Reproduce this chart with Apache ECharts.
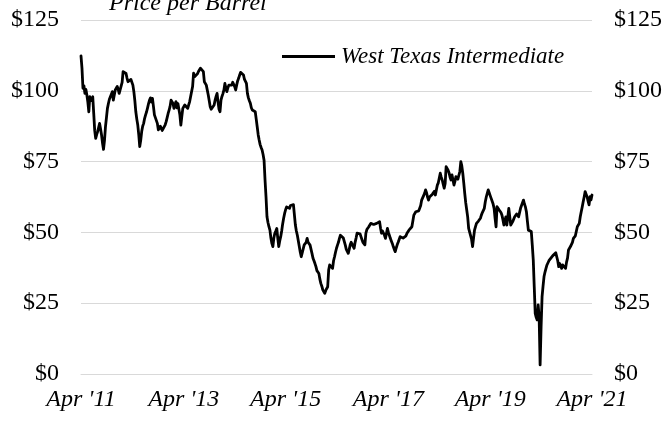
<!DOCTYPE html>
<html>
<head>
<meta charset="utf-8">
<script src="https://cdn.jsdelivr.net/npm/echarts@6/dist/echarts.min.js"></script>
<style>
  html, body { margin: 0; padding: 0; background: #fff; }
  #chart { width: 665px; height: 422px; }
</style>
</head>
<body>
<div id="chart"></div>
<script>
// Weekly WTI spot price (USD per barrel), Friday observations from 1 Apr 2011.
const startDate = '2011-04-01';
const wtiPrice = [
  112.3, 108.0, 100.9, 101.8, 99.1, 100.5, 98.5, 96.0, 92.6, 97.9,
  96.5, 95.8, 97.9, 92.0, 86.0, 83.2, 84.5, 85.6, 87.0, 88.5,
  86.5, 84.4, 81.5, 79.3, 82.5, 87.3, 90.5, 93.8, 95.5, 97.0,
  97.9, 98.8, 99.7, 96.7, 98.5, 100.3, 101.0, 101.5, 100.5, 99.1,
  98.5, 99.1, 103.0, 106.8, 107.5, 106.5, 106.1, 104.5, 103.2, 102.5,
  102.6, 104.0, 103.6, 102.0, 99.7, 96.5, 92.6, 90.0, 87.9, 84.5,
  80.3, 82.5, 85.6, 87.5, 88.5, 90.3, 91.5, 92.6, 94.0, 95.5,
  96.7, 97.5, 96.0, 97.3, 94.5, 91.5, 92.0, 90.9, 88.5, 86.2,
  86.0, 87.5, 86.8, 86.0, 85.6, 86.5, 88.0, 89.1, 90.5, 92.0,
  93.2, 94.5, 96.7, 97.3, 95.5, 93.8, 95.0, 96.2, 94.0, 95.5,
  95.0, 91.5, 87.9, 91.0, 93.8, 94.5, 95.0, 95.6, 94.5, 93.8,
  95.0, 96.2, 95.5, 96.7, 101.5, 106.2, 105.0, 104.5, 105.6, 106.0,
  106.8, 107.5, 108.0, 108.5, 107.5, 106.8, 103.2, 102.5, 102.0, 102.0,
  98.5, 96.5, 94.4, 93.5, 94.0, 93.2, 95.0, 96.7, 98.0, 99.1,
  96.0, 93.5, 92.6, 96.7, 98.0, 99.0, 100.3, 102.6, 101.0, 99.7,
  101.0, 102.0, 102.6, 101.5, 102.0, 103.0, 103.2, 101.5, 100.3, 102.0,
  103.5, 104.4, 105.5, 106.5, 106.8, 106.5, 105.6, 104.0, 103.5, 102.6,
  99.1, 97.5, 96.5, 95.6, 94.0, 93.2, 92.5, 92.8, 92.6, 90.0,
  87.3, 84.5, 82.6, 81.0, 80.0, 79.1, 77.5, 75.5, 68.5, 62.6,
  55.5, 53.5, 52.0, 50.8, 48.0, 46.1, 45.0, 48.0, 49.7, 50.5,
  51.4, 48.0, 45.0, 47.0, 48.5, 50.5, 53.0, 55.0, 56.7, 58.0,
  59.0, 59.7, 59.0, 58.5, 59.5, 60.0, 59.5, 59.8, 59.7, 52.6,
  50.5, 49.0, 48.5, 45.0, 43.0, 41.4, 42.0, 40.9, 45.6, 46.0,
  46.5, 47.9, 46.5, 46.1, 45.5, 45.0, 42.5, 40.9, 40.0, 39.0,
  37.9, 36.5, 35.8, 35.5, 33.5, 32.0, 31.0, 29.7, 29.0, 28.5,
  29.5, 30.0, 30.8, 36.7, 38.5, 39.1, 38.5, 37.3, 40.0, 41.4,
  43.0, 44.4, 45.5, 46.5, 47.9, 49.0, 49.7, 48.5, 48.0, 47.3,
  45.5, 44.0, 43.5, 42.6, 44.0, 45.6, 46.5, 47.0, 46.7, 44.4,
  46.5, 48.0, 49.7, 50.0, 50.3, 49.5, 48.5, 47.5, 46.5, 45.8,
  45.6, 49.7, 51.0, 51.5, 52.0, 52.5, 53.2, 52.5, 53.0, 52.8,
  52.6, 53.5, 53.2, 53.8, 53.5, 53.8, 51.5, 49.7, 50.5, 50.8,
  49.0, 47.9, 49.5, 51.4, 50.0, 49.0, 47.9, 47.0, 46.1, 45.0,
  44.0, 43.2, 44.5, 45.6, 46.5, 47.5, 48.5, 48.8, 49.1, 48.0,
  47.3, 48.0, 48.8, 49.7, 50.3, 50.8, 51.0, 51.5, 52.0, 54.0,
  56.1, 56.8, 57.3, 57.0, 57.5, 57.6, 57.9, 59.5, 61.4, 62.0,
  63.0, 63.8, 65.0, 64.0, 62.5, 61.4, 62.5, 62.0, 62.8, 63.5,
  63.8, 64.5, 63.2, 65.0, 66.7, 67.5, 67.9, 70.9, 69.5, 68.5,
  67.0, 65.6, 67.3, 73.2, 72.5, 72.0, 71.0, 69.5, 68.5, 70.3,
  68.5, 66.7, 68.0, 69.7, 69.0, 68.8, 68.5, 71.5, 75.0, 73.5,
  70.9, 67.5, 63.8, 60.5, 58.0, 55.5, 51.4, 52.0, 50.8, 47.5,
  45.0, 48.0, 50.8, 52.0, 53.2, 53.5, 54.0, 53.8, 55.0, 56.1,
  57.0, 57.5, 58.5, 60.8, 62.5, 63.8, 65.0, 64.0, 63.0, 62.0,
  61.4, 60.0, 58.5, 55.0, 52.0, 59.1, 58.5, 58.0, 57.9, 57.0,
  56.1, 54.5, 52.6, 54.0, 55.5, 52.6, 55.5, 58.5, 55.5, 52.6,
  53.0, 53.8, 54.5, 55.5, 56.1, 56.5, 55.8, 55.5, 57.0, 58.5,
  59.5, 60.5, 61.4, 60.0, 59.0, 57.3, 54.0, 50.8, 50.8, 50.5,
  50.3, 45.5, 40.3, 30.8, 21.4, 20.0, 19.1, 24.4, 20.2, 3.2,
  16.7, 27.3, 31.0, 34.4, 36.0, 37.3, 38.5, 39.1, 40.0, 40.5,
  40.9, 41.5, 41.8, 42.0, 42.3, 42.8, 42.6, 40.0, 37.9, 39.0,
  39.7, 37.3, 38.5, 39.1, 38.0, 37.3, 39.5, 40.9, 43.8, 44.5,
  45.0, 45.6, 46.5, 47.9, 48.5, 48.8, 49.1, 52.0, 52.5, 53.2,
  55.5, 57.3, 59.0, 60.8, 62.5, 64.4, 63.5, 62.6, 61.0, 59.7,
  62.6, 61.5, 63.2
];

// Dates on which the x-axis shows a label, and the text shown there.
const tickDates = ['2011-04-01', '2013-04-05', '2015-04-03', '2017-04-07', '2019-04-05', '2021-04-02'];
const tickLabels = ["Apr '11", "Apr '13", "Apr '15", "Apr '17", "Apr '19", "Apr '21"];

// Y-axis ticks.
const yMin = 0, yMax = 125, yStep = 25;

// One weekly category per price.
function weekDates(start, count) {
  const out = [];
  const t0 = Date.parse(start + 'T00:00:00Z');
  for (let i = 0; i < count; i++) {
    out.push(new Date(t0 + i * 7 * 86400000).toISOString().slice(0, 10));
  }
  return out;
}
const weeks = weekDates(startDate, wtiPrice.length);

const FONT = '"Liberation Serif", "Times New Roman", serif';
const money = v => '$' + v;

const chart = echarts.init(document.getElementById('chart'), null, { renderer: 'canvas' });
chart.setOption({
  animation: false,
  backgroundColor: '#ffffff',
  title: {
    text: 'Price per Barrel',
    left: 104,
    top: -13,
    textStyle: { fontFamily: FONT, fontStyle: 'italic', fontWeight: 'normal', fontSize: 24, color: '#000' }
  },
  legend: {
    data: [{ name: 'West Texas Intermediate', icon: 'rect' }],
    left: 282,
    top: 45,
    padding: 0,
    itemWidth: 53,
    itemHeight: 3,
    itemGap: 4,
    textStyle: { fontFamily: FONT, fontStyle: 'italic', fontSize: 23, color: '#000', padding: [0, 0, 0, 1] },
    itemStyle: { color: '#000', borderWidth: 0 }
  },
  grid: { left: 81, right: 72, top: 20, bottom: 48, containLabel: false },
  xAxis: {
    type: 'category',
    data: weeks,
    boundaryGap: false,
    axisLine: { show: true, lineStyle: { color: '#d9d9d9', width: 1 } },
    axisTick: { show: false },
    splitLine: { show: false },
    axisLabel: {
      interval: (idx, val) => tickDates.indexOf(val) >= 0,
      formatter: val => tickLabels[tickDates.indexOf(val)],
      fontFamily: FONT, fontStyle: 'italic', fontSize: 24, color: '#000', margin: 14,
      showMinLabel: true, showMaxLabel: true, hideOverlap: false
    }
  },
  yAxis: [
    {
      type: 'value', min: yMin, max: yMax, interval: yStep, position: 'left',
      axisLine: { show: false }, axisTick: { show: false },
      splitLine: { show: true, lineStyle: { color: '#d9d9d9', width: 1 } },
      axisLabel: { formatter: money, fontFamily: FONT, fontSize: 24, color: '#000', margin: 22 }
    },
    {
      type: 'value', min: yMin, max: yMax, interval: yStep, position: 'right',
      axisLine: { show: false }, axisTick: { show: false },
      splitLine: { show: false },
      axisLabel: { formatter: money, fontFamily: FONT, fontSize: 24, color: '#000', margin: 22 }
    }
  ],
  series: [{
    name: 'West Texas Intermediate',
    type: 'line',
    data: wtiPrice,
    yAxisIndex: 0,
    symbol: 'none',
    smooth: false,
    lineStyle: { color: '#000', width: 2.8, join: 'round', cap: 'round' },
    itemStyle: { color: '#000' }
  }]
});
</script>
</body>
</html>
